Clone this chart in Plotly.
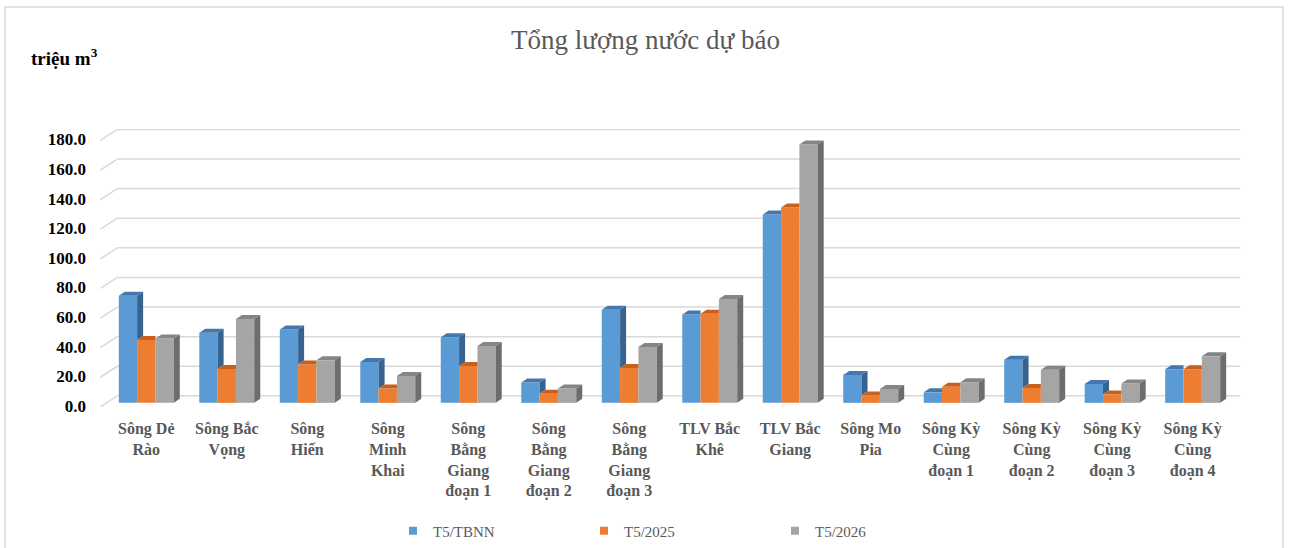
import plotly.graph_objects as go

# ---------------- data ----------------
categories = [
    "Sông Dẻ<br>Rào", "Sông Bắc<br>Vọng", "Sông<br>Hiến", "Sông<br>Minh<br>Khai",
    "Sông<br>Bằng<br>Giang<br>đoạn 1", "Sông<br>Bằng<br>Giang<br>đoạn 2",
    "Sông<br>Bằng<br>Giang<br>đoạn 3", "TLV Bắc<br>Khê", "TLV Bắc<br>Giang",
    "Sông Mo<br>Pia", "Sông Kỳ<br>Cùng<br>đoạn 1", "Sông Kỳ<br>Cùng<br>đoạn 2",
    "Sông Kỳ<br>Cùng<br>đoạn 3", "Sông Kỳ<br>Cùng<br>đoạn 4",
]
series_names = ["T5/TBNN", "T5/2025", "T5/2026"]
t5_tbnn = [72.3, 47.4, 49.6, 27.6, 44.4, 13.7, 62.9, 59.7, 127.3, 18.9, 7.1, 29.2, 12.8, 22.7]
t5_2025 = [42.4, 22.9, 25.9, 9.7, 24.9, 6.1, 23.6, 60.2, 132.0, 4.9, 10.8, 10.1, 5.6, 22.7]
t5_2026 = [43.5, 56.6, 28.7, 18.2, 38.4, 9.7, 37.7, 70.2, 174.6, 9.4, 13.9, 22.4, 13.0, 31.4]
y_ticks = [0, 20, 40, 60, 80, 100, 120, 140, 160, 180]

# ---------------- style ----------------
W, H = 1291, 548
ML, MR, MT, MB = 98, 46, 129, 141
x_range = [-0.6, 13.65]
y_range = [-2.8, 185]
px_x = (W - ML - MR) / (x_range[1] - x_range[0])
px_y = (H - MT - MB) / (y_range[1] - y_range[0])
bargap = 0.317
bw = (1 - bargap) / 3
ddx, ddy = 6 / px_x, 4 / px_y          # 3-D depth of each bar
back_dy = 7 / px_y                      # back wall offset
front_dy = -4 / px_y                    # front floor edge offset
front_x, back_x0, back_x1 = -0.57, -0.36, 13.59

front_cols = ["#5b9bd5", "#ed7d31", "#a5a5a5"]
top_cols = ["#4478ad", "#c8601c", "#858585"]
side_cols = ["#386390", "#b0541a", "#6d6d6d"]
grid_col = "#d9d9d9"
serif = "Liberation Serif, Times New Roman, serif"

series = [t5_tbnn, t5_2025, t5_2026]
idx = list(range(len(categories)))

fig = go.Figure()
for s, vals in enumerate(series):
    fig.add_trace(go.Bar(x=idx, y=vals, name=series_names[s], marker_color=front_cols[s],
                         marker_line_width=0, showlegend=False, hoverinfo="skip"))

# 3-D faces derived from the data
for s, vals in enumerate(series):
    cx, cy, sx, sy = [], [], [], []
    for i, v in enumerate(vals):
        xc = i + (s - 1) * bw
        xl, xr = xc - bw / 2, xc + bw / 2
        nxt = series[s + 1][i] if s < 2 else None
        if nxt is not None and nxt >= v:
            cx += [xl, xl + ddx, xr, xr, None]
        else:
            cx += [xl, xl + ddx, xr + ddx, xr, None]
        cy += [v, v + ddy, v + ddy, v, None]
        base = 0 if nxt is None else nxt
        if v > base:
            sx += [xr, xr + ddx, xr + ddx, xr, None]
            sy += [base, base + ddy, v + ddy, v, None]
    fig.add_trace(go.Scatter(x=cx, y=cy, fill="toself", fillcolor=top_cols[s], mode="lines",
                             line=dict(width=0, color=top_cols[s]), showlegend=False, hoverinfo="skip"))
    fig.add_trace(go.Scatter(x=sx, y=sy, fill="toself", fillcolor=side_cols[s], mode="lines",
                             line=dict(width=0, color=side_cols[s]), showlegend=False, hoverinfo="skip"))

# legend proxies
for s in range(3):
    fig.add_trace(go.Scatter(x=[None], y=[None], mode="markers", name=series_names[s],
                             marker=dict(symbol="square", size=8, color=front_cols[s])))

# back-wall gridlines
shapes = []
for t in y_ticks:
    shapes.append(dict(type="line", xref="x", yref="y", x0=back_x0, x1=back_x1,
                       y0=t + back_dy, y1=t + back_dy, line=dict(color=grid_col, width=1.5), layer="below"))
    shapes.append(dict(type="line", xref="x", yref="y", x0=front_x, x1=back_x0,
                       y0=t + front_dy, y1=t + back_dy, line=dict(color=grid_col, width=1.5), layer="below"))
# chart border
pw, ph = W - ML - MR, H - MT - MB
shapes.append(dict(type="rect", xref="paper", yref="paper",
                   x0=(5 - ML) / pw, x1=(1283 - ML) / pw,
                   y0=(H - MB - 570) / ph, y1=(H - MB - 7) / ph,
                   line=dict(color=grid_col, width=1.5), layer="below"))

fig.update_layout(
    width=W, height=H,
    margin=dict(l=ML, r=MR, t=MT, b=MB, autoexpand=False),
    paper_bgcolor="white", plot_bgcolor="white",
    barmode="group", bargap=bargap, bargroupgap=0,
    title=dict(text="Tổng lượng nước dự báo", x=0.5, xref="container", xanchor="center",
               y=1 - 40 / H, yref="container", yanchor="middle",
               font=dict(family=serif, size=27, color="#595959")),
    xaxis=dict(range=x_range, tickvals=idx, ticktext=categories, showgrid=False, zeroline=False,
               showline=False, ticks="", ticklabelstandoff=10,
               tickfont=dict(family=serif, size=16, color="#595959", weight="bold")),
    yaxis=dict(range=y_range, tickvals=y_ticks, tickformat=".1f", showgrid=False, zeroline=False,
               showline=False, ticks="", ticklabelstandoff=11, ticklabelshift=3,
               tickfont=dict(family=serif, size=17, color="black", weight="bold")),
    legend=dict(orientation="h", xref="container", yref="container", x=393 / W, xanchor="left",
                y=1 - 531 / H, yanchor="middle", entrywidth=146, itemwidth=30,
                font=dict(family=serif, size=15, color="#595959")),
    shapes=shapes,
    annotations=[dict(text="<b>triệu m<sup>3</sup></b>", xref="paper", yref="paper",
                      x=(29 - ML) / pw, y=(H - MB - 57) / ph, xanchor="left", yanchor="middle",
                      showarrow=False, font=dict(family=serif, size=19, color="black"))],
)

fig.write_html("out.html", config={"displayModeBar": False},
               post_script="document.body.style.margin='0px';")
